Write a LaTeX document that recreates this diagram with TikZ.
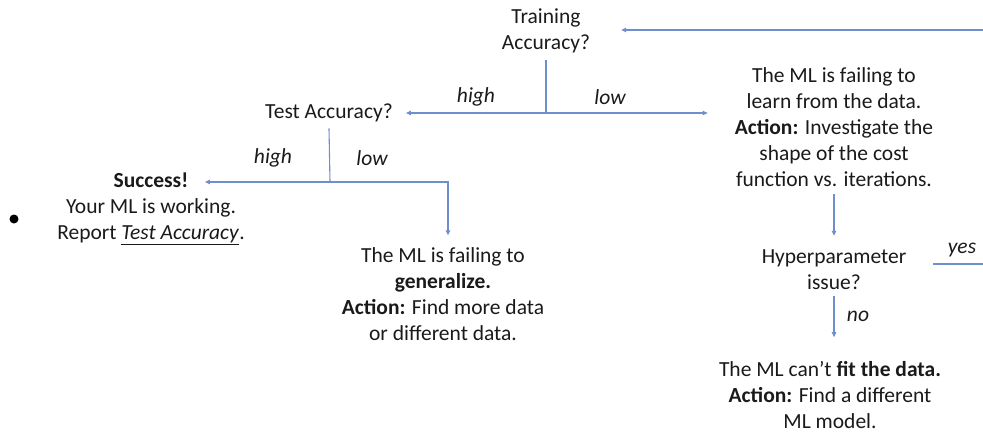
\documentclass[tikz,border=0pt]{standalone}
\usepackage{fontspec}
\setmainfont{Carlito}
\usepackage{tikz}
\usetikzlibrary{arrows.meta}

\definecolor{linkblue}{HTML}{6E8FCB}
\definecolor{txtgray}{HTML}{1A1A1A}
\newcommand{\flowfont}{\fontsize{21.5}{26}\selectfont}

\begin{document}
\begin{tikzpicture}[x=1pt,y=-1pt,
    txt/.style={align=center,inner sep=0pt,text=txtgray,font=\flowfont},
    lbl/.style={inner sep=0pt,text=txtgray,font=\flowfont\itshape},
    wire/.style={draw=linkblue,line width=1.1pt},
    link/.style={wire,-{Triangle[length=5pt,width=4.5pt]}}]

    \useasboundingbox (0,0) rectangle (983,436);

    %==================== Questions and outcomes ====================
    \node[txt] (train) at (546,31) {Training\\Accuracy?};
    \node[txt] (test) at (329,113) {Test Accuracy?};
    \node[txt] (learn) at (834,127) {The ML is failing to\\learn from the data.\\
      \textbf{Action:} Investigate the\\shape of the cost\\function vs. iterations.};
    \node[txt] (success) at (151,209) {\textbf{Success!}\\Your ML is working.\\
      Report \underline{\textit{Test Accuracy}}.};
    \node[txt] (general) at (443,294) {The ML is failing to\\\textbf{generalize.}\\
      \textbf{Action:} Find more data\\or different data.};
    \node[txt] (hyper) at (834,270) {Hyperparameter\\issue?};
    \node[txt] (fit) at (830,395) {The ML can't \textbf{fit the data.}\\
      \textbf{Action:} Find a different\\ML model.};

    % bullet left of the success text
    \node[circle,fill=black,inner sep=0pt,minimum size=9pt] (dot) at (14,219) {};

    % Branch labels
    \foreach \t/\x/\y/\n in {high/476/97/hiA, low/610/97/loA,
                             high/273/158/hiB, low/372/158/loB,
                             yes/962/250/yes, no/858/316/no} {
      \node[lbl] (\n) at (\x,\y) {\t};
    }

    %==================== Connectors ====================
    \coordinate (edgeTop) at (983,30);
    \coordinate (edgeYes) at (983,264);
    \coordinate (jTrain) at (546,113);
    \coordinate (jTest) at (330,182);
    \coordinate (bendGen) at (448,182);

    \coordinate (trainIn) at ([xshift=31pt]train.east);
    \coordinate (testIn) at ([xshift=13pt]test.east);
    \coordinate (learnIn) at ([xshift=-27pt]learn.west);
    \coordinate (successIn) at ([xshift=-40pt]success.east);
    \coordinate (genIn) at ([yshift=12pt]general.north);
    \coordinate (hyperOut) at ([yshift=-6pt]hyper.south);
    \coordinate (fitIn) at ([yshift=24pt]fit.north);
    \coordinate (yesOut) at ([xshift=27pt,yshift=6pt]hyper.east);

    % loop back into training accuracy
    \draw[link] (edgeTop) -- (edgeTop -| trainIn);

    % training accuracy: high / low
    \draw[wire] ([yshift=-7pt]train.south) -- (jTrain);
    \draw[link] (jTrain) -- (jTrain -| testIn);
    \draw[link] (jTrain) -- (jTrain -| learnIn);

    % test accuracy: high / low
    \draw[wire] ([yshift=-6pt]test.south) -- (jTest);
    \draw[link] (jTest) -- (jTest -| successIn);
    \draw[link] (jTest) -- (bendGen) -- (bendGen |- genIn);

    % failing to learn
    \draw[link] ([yshift=-7pt]learn.south) -- ([yshift=14pt]hyper.north);
    \draw[link] (hyperOut) -- (hyperOut |- fitIn);
    \draw[wire] (yesOut) -- (yesOut -| edgeYes);

\end{tikzpicture}
\end{document}
